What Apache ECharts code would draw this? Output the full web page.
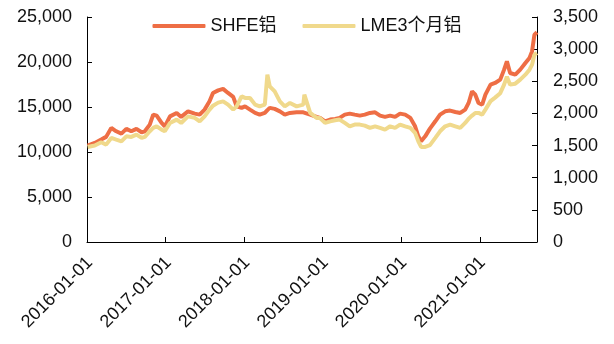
<!DOCTYPE html>
<html>
<head>
<meta charset="utf-8">
<script src="https://cdn.jsdelivr.net/npm/echarts@6/dist/echarts.min.js"></script>
<style>
html,body{margin:0;padding:0;background:#fff;}
#chart{width:614px;height:344px;}
</style>
</head>
<body>
<div id="chart"></div>
<script>
var dates = [
'2016-01-04','2016-02-06','2016-03-07','2016-03-30','2016-04-23','2016-05-16','2016-06-09','2016-07-02','2016-07-25','2016-08-18','2016-09-11','2016-09-26','2016-10-19','2016-11-04','2016-11-20','2016-12-13','2016-12-28',
'2017-01-21','2017-02-21','2017-03-14','2017-04-15','2017-05-16','2017-06-08','2017-07-01','2017-07-24','2017-08-09','2017-09-02','2017-09-25','2017-10-18','2017-11-11','2017-11-27','2017-12-20',
'2018-01-05','2018-01-28','2018-02-21','2018-03-14','2018-04-07','2018-04-19','2018-04-30','2018-05-23','2018-06-16','2018-07-09','2018-08-02','2018-09-02','2018-10-03','2018-10-08','2018-11-04','2018-12-04','2018-12-20',
'2019-01-12','2019-02-05','2019-02-28','2019-03-21','2019-04-14','2019-05-07','2019-05-30','2019-06-23','2019-07-16','2019-08-09','2019-09-02','2019-09-25','2019-10-18','2019-11-11','2019-12-04','2019-12-27',
'2020-01-20','2020-02-13','2020-03-06','2020-03-21','2020-04-03','2020-04-22','2020-05-14','2020-06-08','2020-06-30','2020-07-24','2020-08-16','2020-09-09','2020-10-02','2020-10-25','2020-11-10','2020-11-26','2020-12-11','2020-12-26',
'2021-01-12','2021-01-27','2021-02-20','2021-03-13','2021-04-06','2021-04-24','2021-05-07','2021-05-22','2021-06-15','2021-07-08','2021-08-01','2021-08-20','2021-09-01','2021-09-12','2021-09-24'
];
var shfe = [
10700,11010,11380,11680,12680,12300,12040,12570,12300,12570,12190,12300,13040,14150,14040,13230,12850,
13960,14340,13900,14520,14260,14150,14710,15630,16560,16850,17010,16560,16120,15070,14900,
15070,14710,14340,14150,14340,14650,14900,14790,14520,14150,14340,14410,14410,14410,14150,13900,13790,
13410,13600,13680,13790,14150,14260,14150,14040,14150,14340,14410,14040,13900,14040,13900,14260,
14150,13790,12850,11740,11190,11740,12600,13410,14150,14520,14600,14450,14340,14710,15450,16740,16370,15450,
15260,16370,17480,17670,18040,19150,20070,18780,18590,19150,19890,20450,21180,23030,23300
];
var lme = [
1479,1500,1551,1515,1619,1593,1566,1644,1635,1671,1619,1635,1722,1775,1800,1748,1722,
1852,1904,1852,1955,1930,1877,1955,2059,2121,2168,2188,2137,2059,2110,2266,
2241,2241,2137,2110,2137,2603,2421,2343,2188,2110,2163,2110,2137,2292,2008,1930,1927,
1852,1877,1893,1904,1852,1800,1826,1826,1810,1775,1800,1775,1748,1800,1775,1826,
1800,1775,1697,1566,1479,1479,1507,1619,1722,1800,1826,1800,1775,1852,1919,1966,2008,2008,
1981,2059,2191,2246,2315,2448,2572,2448,2463,2525,2603,2681,2758,2914,2940
];
var seriesNames = ['SHFE铝', 'LME3个月铝'];
var xMin = '2016-01-01', xMax = '2021-09-24';

var font = '"Liberation Sans", Arial, "Noto Sans CJK SC", sans-serif';
var chart = echarts.init(document.getElementById('chart'));
var YEAR = 365.25 * 24 * 3600 * 1000;
function pairs(vals){ return dates.map(function(d,i){ return [d, vals[i]]; }); }
chart.setOption({
  animation: false,
  backgroundColor: '#fff',
  textStyle: { fontFamily: font },
  legend: {
    top: 12, left: 'center',
    itemWidth: 53, itemHeight: 4, itemGap: 26,
    icon: 'roundRect',
    textStyle: { fontSize: 18, color: '#111', fontFamily: font },
    data: seriesNames
  },
  grid: { left: 87, right: 77, top: 17, bottom: 102, containLabel: false },
  xAxis: {
    type: 'time',
    min: xMin, max: xMax,
    minInterval: YEAR * 0.99, maxInterval: YEAR * 1.01,
    splitLine: { show: false },
    axisLine: { lineStyle: { color: '#000', width: 1 } },
    axisTick: { inside: true, length: 5, lineStyle: { color: '#000' } },
    axisLabel: {
      rotate: 45, margin: 15, fontSize: 18, color: '#111', fontFamily: font,
      padding: [8, 0, 0, 0],
      formatter: function(v){ return echarts.time.format(v, '{yyyy}-{MM}-{dd}', false); }
    }
  },
  yAxis: [
    {
      type: 'value', min: 0, max: 25000, interval: 5000,
      splitLine: { show: false },
      axisLine: { show: true, lineStyle: { color: '#000', width: 1 } },
      axisTick: { show: true, inside: true, length: 5, lineStyle: { color: '#000' } },
      axisLabel: { margin: 15, fontSize: 18, color: '#111', fontFamily: font }
    },
    {
      type: 'value', min: 0, max: 3500, interval: 500,
      splitLine: { show: false },
      axisLine: { show: true, lineStyle: { color: '#000', width: 1 } },
      axisTick: { show: true, inside: true, length: 5, lineStyle: { color: '#000' } },
      axisLabel: { margin: 16, fontSize: 18, color: '#111', fontFamily: font }
    }
  ],
  series: [
    {
      name: seriesNames[0], type: 'line', yAxisIndex: 0,
      data: pairs(shfe), showSymbol: false, symbol: 'none',
      lineStyle: { width: 4, color: '#EE6E45' }, itemStyle: { color: '#EE6E45' }
    },
    {
      name: seriesNames[1], type: 'line', yAxisIndex: 1,
      data: pairs(lme), showSymbol: false, symbol: 'none',
      lineStyle: { width: 4, color: '#F0D98C' }, itemStyle: { color: '#F0D98C' }
    }
  ]
});
</script>
</body>
</html>
